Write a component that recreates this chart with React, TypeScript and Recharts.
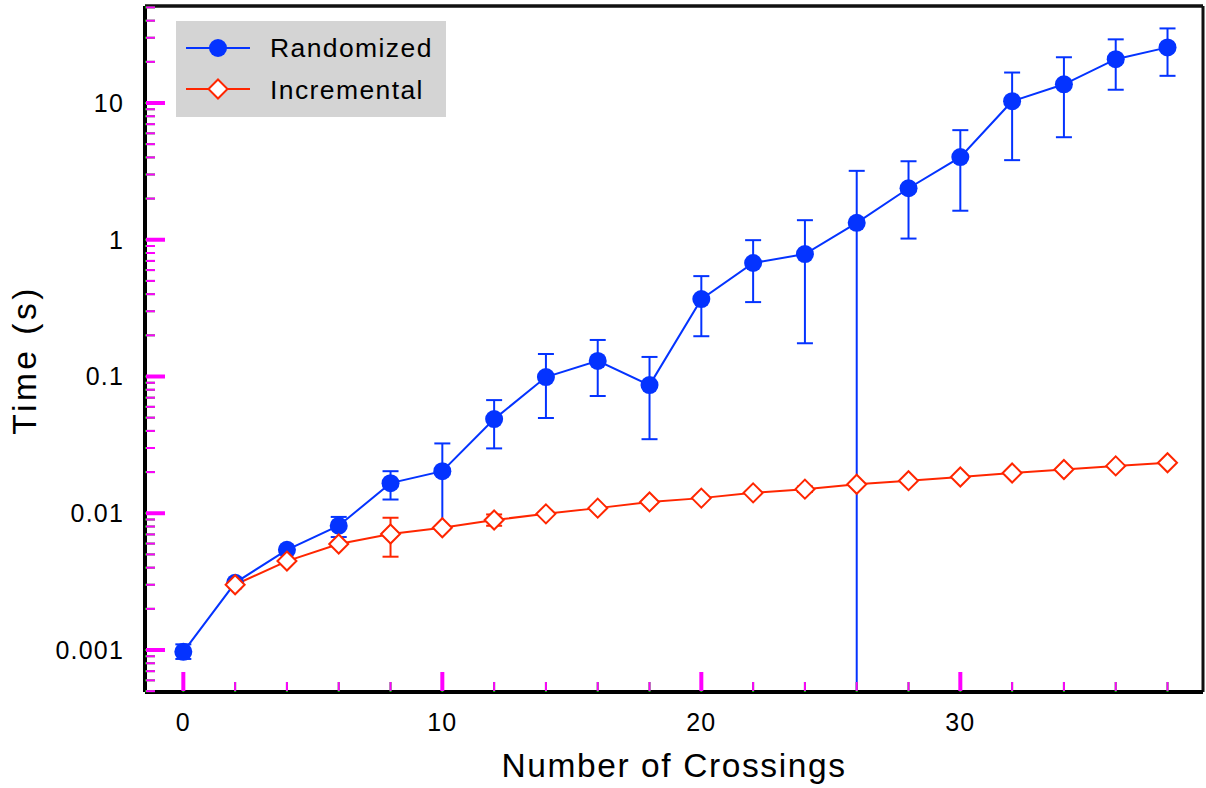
import React from 'react';
import { ComposedChart, Line, XAxis, YAxis, ErrorBar, Legend, ReferenceLine, Label } from 'recharts';

const BLUE = '#0433ff';
const RED = '#ff2600';
const FONT = '"Liberation Sans", Arial, Helvetica, sans-serif';

// Randomized: mean time and error range per number of crossings
const crossings = [0, 2, 4, 6, 8, 10, 12, 14, 16, 18, 20, 22, 24, 26, 28, 30, 32, 34, 36, 38];
const randomizedTime = [0.00097, 0.0031, 0.0054, 0.0081, 0.0166, 0.0203, 0.0488, 0.099, 0.13, 0.0865, 0.368, 0.676, 0.786, 1.33, 2.38, 4.02, 10.3, 13.7, 20.9, 25.5];
const randomizedLow = [0.00086, 0.0031, 0.0052, 0.0067, 0.0126, 0.00783, 0.0298, 0.0497, 0.072, 0.0348, 0.197, 0.35, 0.175, 0.00049, 1.02, 1.63, 3.82, 5.62, 12.5, 15.8];
const randomizedHigh = [0.0011, 0.0031, 0.0056, 0.0094, 0.0203, 0.0324, 0.0672, 0.146, 0.185, 0.139, 0.542, 0.993, 1.39, 3.19, 3.75, 6.33, 16.7, 21.6, 29.2, 35.1];

// Incremental
const incrementalCrossings = [2, 4, 6, 8, 10, 12, 14, 16, 18, 20, 22, 24, 26, 28, 30, 32, 34, 36, 38];
const incrementalTime = [0.003, 0.00447, 0.00596, 0.00705, 0.00783, 0.00892, 0.0099, 0.0109, 0.0121, 0.0129, 0.0141, 0.015, 0.0163, 0.0173, 0.0184, 0.0197, 0.0209, 0.0222, 0.0234];
const incrementalLow = [0.003, 0.00447, 0.00596, 0.00481, 0.00783, 0.0081, 0.0099, 0.0109, 0.0121, 0.0129, 0.0141, 0.0143, 0.0163, 0.0173, 0.0184, 0.0197, 0.0209, 0.0222, 0.0234];
const incrementalHigh = [0.003, 0.00447, 0.00596, 0.00927, 0.00783, 0.0098, 0.0099, 0.0109, 0.0121, 0.0129, 0.0141, 0.0157, 0.0163, 0.0173, 0.0184, 0.0197, 0.0209, 0.0222, 0.0234];

const seriesNames = ['Randomized', 'Incremental'];

const xTicks = [0, 2, 4, 6, 8, 10, 12, 14, 16, 18, 20, 22, 24, 26, 28, 30, 32, 34, 36, 38];
const xLabels = [0, 10, 20, 30];
const yDecades = [0.001, 0.01, 0.1, 1, 10];
const yMantissas = [1, 2, 3, 4, 5, 6, 7, 8, 9];
const yLowTicks = [0.0005, 0.0006, 0.0007, 0.0008, 0.0009];

const X_DOMAIN = [-1.48, 39.37];
const Y_DOMAIN = [0.000493, 51.2];

const yTicks = [
  ...yLowTicks,
  ...yDecades.flatMap((d) => yMantissas.map((m) => +(d * m).toPrecision(3))),
].filter((v) => v <= 50);

const randomizedData = crossings.map((x, i) => ({
  x,
  time: randomizedTime[i],
  err: [randomizedTime[i] - randomizedLow[i], randomizedHigh[i] - randomizedTime[i]],
}));

const incrementalData = incrementalCrossings.map((x, i) => ({
  x,
  time: incrementalTime[i],
  err: [incrementalTime[i] - incrementalLow[i], incrementalHigh[i] - incrementalTime[i]],
}));

const isDecade = (v: number) => yDecades.some((d) => Math.abs(d - v) / d < 1e-6);

const XTick = (props: any) => {
  const x = Number(props.x);
  const y = Number(props.y);
  const value = props.payload.value;
  const major = xLabels.includes(value);
  return (
    <g>
      <path d={`M${x},${y - 1}V${y - (major ? 20 : 10)}`} stroke="#f0f" strokeWidth={major ? 4 : 2} fill="none" />
      {major && (
        <text x={x} y={y + 39} textAnchor="middle" fontSize={25} fontFamily={FONT} fill="#000" letterSpacing={1.2}>
          {value}
        </text>
      )}
    </g>
  );
};

const YTick = (props: any) => {
  const x = Number(props.x);
  const y = Number(props.y);
  const value = props.payload.value;
  const major = isDecade(value);
  return (
    <g>
      <path d={`M${x + 1},${y}H${x + (major ? 20 : 10)}`} stroke="#f0f" strokeWidth={major ? 4 : 2} fill="none" />
      {major && (
        <text x={x - 21} y={y + 9} textAnchor="end" fontSize={25} fontFamily={FONT} fill="#000" letterSpacing={1.2}>
          {String(value)}
        </text>
      )}
    </g>
  );
};

const Diamond = (props: any) => {
  const { cx, cy } = props;
  if (cx == null || cy == null) return null;
  const s = 9.5;
  return (
    <path
      d={`M${cx},${cy - s}L${cx + s},${cy}L${cx},${cy + s}L${cx - s},${cy}Z`}
      fill="#fff"
      stroke={RED}
      strokeWidth={2}
    />
  );
};

const XTitle = (props: any) => {
  const { viewBox } = props;
  return (
    <text
      x={viewBox.x + viewBox.width / 2}
      y={viewBox.y + 85}
      textAnchor="middle"
      fontSize={33.5}
      fontFamily={FONT}
      letterSpacing={1.6}
      fill="#000"
    >
      Number of Crossings
    </text>
  );
};

const YTitle = (props: any) => {
  const { viewBox } = props;
  const tx = viewBox.x + 36;
  const ty = viewBox.y + viewBox.height / 2 + 11;
  return (
    <text
      x={tx}
      y={ty}
      transform={`rotate(-90 ${tx} ${ty})`}
      textAnchor="middle"
      fontSize={33.5}
      fontFamily={FONT}
      letterSpacing={3.5}
      fill="#000"
    >
      Time (s)
    </text>
  );
};

const LegendBox = () => (
  <svg width={270} height={96} style={{ display: 'block' }}>
    <rect x={0} y={0} width={270} height={96} fill="#d4d4d4" />
    <line x1={10} x2={74} y1={27} y2={27} stroke={BLUE} strokeWidth={2} />
    <circle cx={42} cy={27} r={9} fill={BLUE} />
    <text x={94} y={36} fontSize={26.5} fontFamily={FONT} letterSpacing={1.4} fill="#000">
      {seriesNames[0]}
    </text>
    <line x1={10} x2={74} y1={68} y2={68} stroke={RED} strokeWidth={2} />
    <path d="M42,58.5L51.5,68L42,77.5L32.5,68Z" fill="#fff" stroke={RED} strokeWidth={2} />
    <text x={94} y={78} fontSize={26.5} fontFamily={FONT} letterSpacing={1.4} fill="#000">
      {seriesNames[1]}
    </text>
  </svg>
);

export default function App() {
  return (
    <div style={{ position: 'absolute', left: 0, top: 0, width: 1206, height: 788, background: '#fff' }}>
      <ComposedChart width={1206} height={788} margin={{ top: 6, right: 3, bottom: 0, left: 0 }}>
        <ReferenceLine y={Y_DOMAIN[1]} stroke="#111" strokeWidth={3.5} />
        <ReferenceLine x={X_DOMAIN[1]} stroke="#111" strokeWidth={3} />
        <XAxis
          type="number"
          dataKey="x"
          domain={X_DOMAIN}
          allowDataOverflow
          ticks={xTicks}
          interval={0}
          tick={<XTick />}
          tickLine={{ stroke: '#0c0', strokeWidth: 2 }}
          tickSize={-10}
          tickMargin={10}
          height={96}
          axisLine={{ stroke: '#000', strokeWidth: 4 }}
        >
          <Label content={<XTitle />} />
        </XAxis>
        <YAxis
          type="number"
          scale="log"
          domain={Y_DOMAIN}
          allowDataOverflow
          ticks={yTicks}
          interval={0}
          tick={<YTick />}
          tickLine={{ stroke: '#0c0', strokeWidth: 2 }}
          tickSize={-10}
          tickMargin={10}
          width={145}
          axisLine={{ stroke: '#000', strokeWidth: 4 }}
        >
          <Label content={<YTitle />} />
        </YAxis>
        <Legend
          layout="vertical"
          align="center"
          verticalAlign="middle"
          content={<LegendBox />}
          wrapperStyle={{ position: 'absolute', left: 176, top: 21, width: 270, height: 96 }}
        />
        <Line
          data={randomizedData}
          dataKey="time"
          name={seriesNames[0]}
          stroke={BLUE}
          strokeWidth={2}
          dot={{ r: 9, fill: BLUE, stroke: BLUE, strokeWidth: 0 }}
          isAnimationActive={false}
        >
          <ErrorBar dataKey="err" width={8} stroke={BLUE} strokeWidth={2} direction="y" isAnimationActive={false} />
        </Line>
        <Line
          data={incrementalData}
          dataKey="time"
          name={seriesNames[1]}
          stroke={RED}
          strokeWidth={2}
          dot={<Diamond />}
          isAnimationActive={false}
        >
          <ErrorBar dataKey="err" width={8} stroke={RED} strokeWidth={2} direction="y" isAnimationActive={false} />
        </Line>
      </ComposedChart>
    </div>
  );
}
